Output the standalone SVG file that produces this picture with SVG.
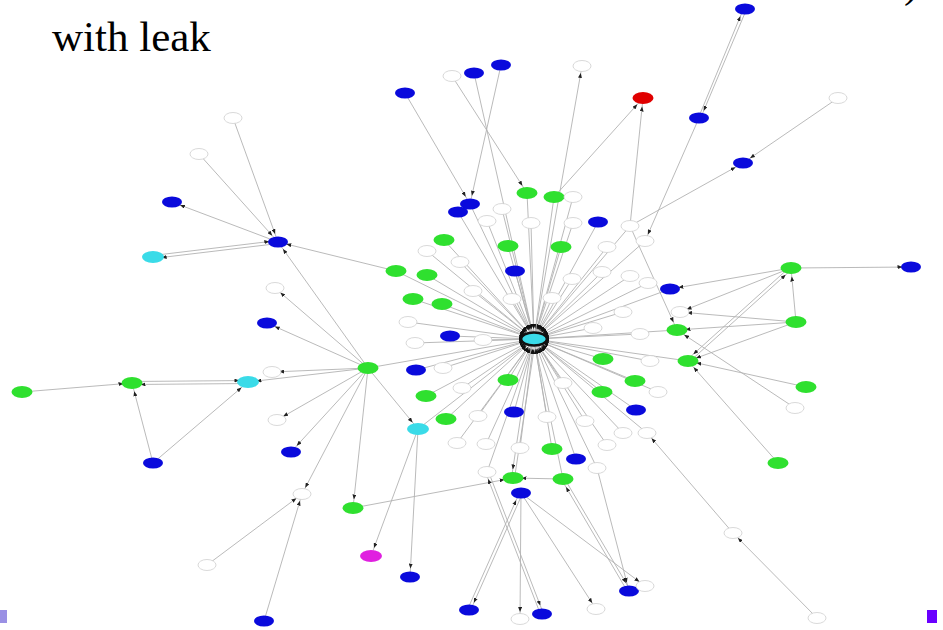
<svg xmlns="http://www.w3.org/2000/svg" width="943" height="630" viewBox="0 0 943 630">
  <style>
    .e { stroke: #b2b2b2; stroke-width: 0.9; fill: none; }
    .ac { marker-end: url(#aC); }
    .aw { marker-end: url(#aW); }
    .ah { marker-end: url(#aH); }
    .b { fill: #0a0adc; }
    .g { fill: #2fe02f; }
    .c { fill: #3adbe8; }
    .r { fill: #e00000; }
    .m { fill: #e020e0; }
    .w { fill: #ffffff; stroke: #cfcfcf; stroke-width: 0.8; }
    .hub { fill: #3adbe8; stroke: #111; stroke-width: 2.6; }
    .title { font-family: "Liberation Serif", "Times New Roman", serif; font-size: 43px; fill: #000; }
  </style>
  <defs>
    <!-- arrowheads, tip set back so it lands on the node outline -->
    <marker id="aC" viewBox="0 0 5 4" markerWidth="5" markerHeight="4" refX="13.5" refY="2" orient="auto" markerUnits="userSpaceOnUse">
      <path d="M0,0L5,2L0,4z" fill="#222"/>
    </marker>
    <marker id="aW" viewBox="0 0 5 4" markerWidth="5" markerHeight="4" refX="12" refY="2" orient="auto" markerUnits="userSpaceOnUse">
      <path d="M0,0L5,2L0,4z" fill="#222"/>
    </marker>
    <marker id="aH" viewBox="0 0 5 4" markerWidth="5" markerHeight="4" refX="15" refY="2" orient="auto" markerUnits="userSpaceOnUse">
      <path d="M0,0L5,2L0,4z" fill="#111"/>
    </marker>
  </defs>

  <rect width="943" height="630" fill="#ffffff"/>

  <text class="title" x="52" y="51">with leak</text>
  <text class="title" x="904" y="-3">)</text>

  <rect x="0" y="610" width="7" height="13" fill="#9a90e4"/>
  <rect x="927" y="610" width="10" height="13" fill="#6a00ff"/>

  <g id="edges">
    <!-- spokes into the hub -->
    <line class="e ah" x1="474" y1="73" x2="534" y2="339"/>
    <line class="e ah" x1="470" y1="204" x2="534" y2="339"/>
    <line class="e ah" x1="458" y1="212" x2="534" y2="339"/>
    <line class="e ah" x1="598" y1="222" x2="534" y2="339"/>
    <line class="e ah" x1="515" y1="271" x2="534" y2="339"/>
    <line class="e ah" x1="670" y1="289" x2="534" y2="339"/>
    <line class="e ah" x1="450" y1="336" x2="534" y2="339"/>
    <line class="e ah" x1="416" y1="370" x2="534" y2="339"/>
    <line class="e ah" x1="514" y1="412" x2="534" y2="339"/>
    <line class="e ah" x1="636" y1="410" x2="534" y2="339"/>
    <line class="e ah" x1="576" y1="459" x2="534" y2="339"/>
    <line class="e ah" x1="527" y1="193" x2="534" y2="339"/>
    <line class="e ah" x1="554" y1="197" x2="534" y2="339"/>
    <line class="e ah" x1="444" y1="240" x2="534" y2="339"/>
    <line class="e ah" x1="508" y1="246" x2="534" y2="339"/>
    <line class="e ah" x1="561" y1="247" x2="534" y2="339"/>
    <line class="e ah" x1="396" y1="271" x2="534" y2="339"/>
    <line class="e ah" x1="427" y1="275" x2="534" y2="339"/>
    <line class="e ah" x1="413" y1="299" x2="534" y2="339"/>
    <line class="e ah" x1="442" y1="304" x2="534" y2="339"/>
    <line class="e ah" x1="677" y1="330" x2="534" y2="339"/>
    <line class="e ah" x1="688" y1="361" x2="534" y2="339"/>
    <line class="e ah" x1="603" y1="359" x2="534" y2="339"/>
    <line class="e ah" x1="368" y1="368" x2="534" y2="339"/>
    <line class="e ah" x1="508" y1="380" x2="534" y2="339"/>
    <line class="e ah" x1="635" y1="381" x2="534" y2="339"/>
    <line class="e ah" x1="426" y1="396" x2="534" y2="339"/>
    <line class="e ah" x1="602" y1="392" x2="534" y2="339"/>
    <line class="e ah" x1="446" y1="419" x2="534" y2="339"/>
    <line class="e ah" x1="552" y1="449" x2="534" y2="339"/>
    <line class="e ah" x1="563" y1="479" x2="534" y2="339"/>
    <line class="e ah" x1="418" y1="429" x2="534" y2="339"/>
    <line class="e ah" x1="573" y1="197" x2="534" y2="339"/>
    <line class="e ah" x1="502" y1="209" x2="534" y2="339"/>
    <line class="e ah" x1="487" y1="221" x2="534" y2="339"/>
    <line class="e ah" x1="531" y1="223" x2="534" y2="339"/>
    <line class="e ah" x1="573" y1="223" x2="534" y2="339"/>
    <line class="e ah" x1="630" y1="226" x2="534" y2="339"/>
    <line class="e ah" x1="645" y1="241" x2="534" y2="339"/>
    <line class="e ah" x1="607" y1="247" x2="534" y2="339"/>
    <line class="e ah" x1="427" y1="251" x2="534" y2="339"/>
    <line class="e ah" x1="460" y1="262" x2="534" y2="339"/>
    <line class="e ah" x1="572" y1="279" x2="534" y2="339"/>
    <line class="e ah" x1="602" y1="272" x2="534" y2="339"/>
    <line class="e ah" x1="630" y1="276" x2="534" y2="339"/>
    <line class="e ah" x1="648" y1="283" x2="534" y2="339"/>
    <line class="e ah" x1="473" y1="291" x2="534" y2="339"/>
    <line class="e ah" x1="512" y1="299" x2="534" y2="339"/>
    <line class="e ah" x1="552" y1="298" x2="534" y2="339"/>
    <line class="e ah" x1="623" y1="312" x2="534" y2="339"/>
    <line class="e ah" x1="593" y1="328" x2="534" y2="339"/>
    <line class="e ah" x1="640" y1="334" x2="534" y2="339"/>
    <line class="e ah" x1="408" y1="322" x2="534" y2="339"/>
    <line class="e ah" x1="415" y1="343" x2="534" y2="339"/>
    <line class="e ah" x1="483" y1="340" x2="534" y2="339"/>
    <line class="e ah" x1="650" y1="361" x2="534" y2="339"/>
    <line class="e ah" x1="443" y1="368" x2="534" y2="339"/>
    <line class="e ah" x1="563" y1="383" x2="534" y2="339"/>
    <line class="e ah" x1="658" y1="392" x2="534" y2="339"/>
    <line class="e ah" x1="462" y1="388" x2="534" y2="339"/>
    <line class="e ah" x1="478" y1="416" x2="534" y2="339"/>
    <line class="e ah" x1="547" y1="417" x2="534" y2="339"/>
    <line class="e ah" x1="585" y1="421" x2="534" y2="339"/>
    <line class="e ah" x1="623" y1="433" x2="534" y2="339"/>
    <line class="e ah" x1="647" y1="433" x2="534" y2="339"/>
    <line class="e ah" x1="457" y1="443" x2="534" y2="339"/>
    <line class="e ah" x1="486" y1="444" x2="534" y2="339"/>
    <line class="e ah" x1="520" y1="448" x2="534" y2="339"/>
    <line class="e ah" x1="607" y1="445" x2="534" y2="339"/>
    <line class="e ah" x1="597" y1="468" x2="534" y2="339"/>
    <line class="e ah" x1="487" y1="472" x2="534" y2="339"/>
    <line class="e aw" x1="534" y1="339" x2="582" y2="66"/>
    <line class="e ah" x1="514.5" y1="478.2" x2="535.5" y2="339.2"/>
    <line class="e ac" x1="532.5" y1="338.8" x2="511.5" y2="477.8"/>

    <!-- upper part -->
    <line class="e ac" x1="452" y1="76" x2="527" y2="193"/>
    <line class="e ac" x1="405" y1="93" x2="470" y2="204"/>
    <line class="e ac" x1="501" y1="65" x2="470" y2="204"/>
    <line class="e ac" x1="554" y1="197" x2="643" y2="98"/>
    <line class="e ac" x1="630" y1="226" x2="643" y2="98"/>
    <line class="e ac" x1="746.4" y1="9.6" x2="700.4" y2="118.6"/>
    <line class="e ac" x1="698.6" y1="117.4" x2="743.6" y2="8.4"/>
    <line class="e aw" x1="699" y1="118" x2="645" y2="241"/>
    <line class="e ac" x1="838" y1="98" x2="743" y2="163"/>
    <line class="e ac" x1="630" y1="226" x2="743" y2="163"/>
    <line class="e ac" x1="630" y1="226" x2="677" y2="330"/>

    <!-- right cluster -->
    <line class="e ac" x1="791" y1="268" x2="911" y2="267"/>
    <line class="e ac" x1="791" y1="268" x2="670" y2="289"/>
    <line class="e aw" x1="791" y1="268" x2="680" y2="312"/>
    <line class="e ac" x1="796" y1="322" x2="791" y2="268"/>
    <line class="e aw" x1="796" y1="322" x2="680" y2="312"/>
    <line class="e ac" x1="796" y1="322" x2="677" y2="330"/>
    <line class="e ac" x1="796" y1="322" x2="688" y2="361"/>
    <line class="e ac" x1="689" y1="362.1" x2="792" y2="269.1"/>
    <line class="e ac" x1="790" y1="266.9" x2="687" y2="359.9"/>
    <line class="e ac" x1="806" y1="387" x2="688" y2="361"/>
    <line class="e ac" x1="795" y1="408" x2="677" y2="330"/>
    <line class="e ac" x1="778" y1="463" x2="688" y2="361"/>
    <line class="e aw" x1="733" y1="533" x2="647" y2="433"/>
    <line class="e aw" x1="817" y1="618" x2="733" y2="533"/>

    <!-- left cluster -->
    <line class="e ac" x1="233" y1="118" x2="278" y2="242"/>
    <line class="e ac" x1="199" y1="154" x2="278" y2="242"/>
    <line class="e ac" x1="278" y1="242" x2="172" y2="202"/>
    <line class="e ac" x1="278.2" y1="243.5" x2="153.2" y2="258.5"/>
    <line class="e ac" x1="152.8" y1="255.5" x2="277.8" y2="240.5"/>
    <line class="e ac" x1="396" y1="271" x2="278" y2="242"/>
    <line class="e ac" x1="368" y1="368" x2="278" y2="242"/>
    <line class="e aw" x1="368" y1="368" x2="275" y2="288"/>
    <line class="e ac" x1="368" y1="368" x2="267" y2="323"/>
    <line class="e aw" x1="368" y1="368" x2="272" y2="372"/>
    <line class="e ac" x1="368" y1="368" x2="248" y2="382"/>
    <line class="e aw" x1="368" y1="368" x2="277" y2="420"/>
    <line class="e ac" x1="368" y1="368" x2="291" y2="452"/>
    <line class="e aw" x1="368" y1="368" x2="302" y2="494"/>
    <line class="e ac" x1="368" y1="368" x2="353" y2="508"/>
    <line class="e ac" x1="368" y1="368" x2="418" y2="429"/>
    <line class="e aw" x1="207" y1="565" x2="302" y2="494"/>
    <line class="e aw" x1="264" y1="621" x2="302" y2="494"/>
    <line class="e ac" x1="248" y1="383.5" x2="132" y2="384.5"/>
    <line class="e ac" x1="132" y1="381.5" x2="248" y2="380.5"/>
    <line class="e ac" x1="22" y1="392" x2="132" y2="383"/>
    <line class="e ac" x1="153" y1="463" x2="132" y2="383"/>
    <line class="e ac" x1="153" y1="463" x2="248" y2="382"/>
    <line class="e ac" x1="418" y1="429" x2="371" y2="556"/>
    <line class="e ac" x1="418" y1="429" x2="410" y2="577"/>

    <!-- lower part -->
    <line class="e ac" x1="353" y1="508" x2="513" y2="478"/>
    <line class="e ac" x1="563" y1="479" x2="513" y2="478"/>
    <line class="e ac" x1="488.4" y1="471.5" x2="543.4" y2="613.5"/>
    <line class="e aw" x1="540.6" y1="614.5" x2="485.6" y2="472.5"/>
    <line class="e ac" x1="522.4" y1="493.6" x2="470.4" y2="610.6"/>
    <line class="e ac" x1="467.6" y1="609.4" x2="519.6" y2="492.4"/>
    <line class="e aw" x1="521" y1="493" x2="520" y2="619"/>
    <line class="e aw" x1="521" y1="493" x2="596" y2="609"/>
    <line class="e aw" x1="521" y1="493" x2="645" y2="586"/>
    <line class="e ac" x1="564.3" y1="478.2" x2="630.3" y2="590.2"/>
    <line class="e ac" x1="627.7" y1="591.8" x2="561.7" y2="479.8"/>
    <line class="e ac" x1="597" y1="468" x2="629" y2="591"/>
  </g>

  <!-- blue nodes -->
  <g id="b1"><ellipse class="b" cx="745" cy="9" rx="10" ry="5.5"/></g>
  <g id="b2"><ellipse class="b" cx="699" cy="118" rx="10" ry="5.5"/></g>
  <g id="b3"><ellipse class="b" cx="743" cy="163" rx="10" ry="5.5"/></g>
  <g id="b4"><ellipse class="b" cx="405" cy="93" rx="10" ry="5.5"/></g>
  <g id="b5"><ellipse class="b" cx="474" cy="73" rx="10" ry="5.5"/></g>
  <g id="b6"><ellipse class="b" cx="501" cy="65" rx="10" ry="5.5"/></g>
  <g id="b7"><ellipse class="b" cx="470" cy="204" rx="10" ry="5.5"/></g>
  <g id="b8"><ellipse class="b" cx="458" cy="212" rx="10" ry="5.5"/></g>
  <g id="b9"><ellipse class="b" cx="598" cy="222" rx="10" ry="5.5"/></g>
  <g id="b10"><ellipse class="b" cx="515" cy="271" rx="10" ry="5.5"/></g>
  <g id="b11"><ellipse class="b" cx="670" cy="289" rx="10" ry="5.5"/></g>
  <g id="b12"><ellipse class="b" cx="911" cy="267" rx="10" ry="5.5"/></g>
  <g id="b13"><ellipse class="b" cx="172" cy="202" rx="10" ry="5.5"/></g>
  <g id="b14"><ellipse class="b" cx="278" cy="242" rx="10" ry="5.5"/></g>
  <g id="b15"><ellipse class="b" cx="267" cy="323" rx="10" ry="5.5"/></g>
  <g id="b16"><ellipse class="b" cx="450" cy="336" rx="10" ry="5.5"/></g>
  <g id="b17"><ellipse class="b" cx="416" cy="370" rx="10" ry="5.5"/></g>
  <g id="b18"><ellipse class="b" cx="291" cy="452" rx="10" ry="5.5"/></g>
  <g id="b19"><ellipse class="b" cx="153" cy="463" rx="10" ry="5.5"/></g>
  <g id="b20"><ellipse class="b" cx="514" cy="412" rx="10" ry="5.5"/></g>
  <g id="b21"><ellipse class="b" cx="636" cy="410" rx="10" ry="5.5"/></g>
  <g id="b22"><ellipse class="b" cx="576" cy="459" rx="10" ry="5.5"/></g>
  <g id="b23"><ellipse class="b" cx="521" cy="493" rx="10" ry="5.5"/></g>
  <g id="b24"><ellipse class="b" cx="629" cy="591" rx="10" ry="5.5"/></g>
  <g id="b25"><ellipse class="b" cx="469" cy="610" rx="10" ry="5.5"/></g>
  <g id="b26"><ellipse class="b" cx="542" cy="614" rx="10" ry="5.5"/></g>
  <g id="b27"><ellipse class="b" cx="410" cy="577" rx="10" ry="5.5"/></g>
  <g id="b28"><ellipse class="b" cx="264" cy="621" rx="10" ry="5.5"/></g>

  <!-- green nodes -->
  <g id="g1"><ellipse class="g" cx="527" cy="193" rx="10.5" ry="6"/></g>
  <g id="g2"><ellipse class="g" cx="554" cy="197" rx="10.5" ry="6"/></g>
  <g id="g3"><ellipse class="g" cx="444" cy="240" rx="10.5" ry="6"/></g>
  <g id="g4"><ellipse class="g" cx="508" cy="246" rx="10.5" ry="6"/></g>
  <g id="g5"><ellipse class="g" cx="561" cy="247" rx="10.5" ry="6"/></g>
  <g id="g6"><ellipse class="g" cx="396" cy="271" rx="10.5" ry="6"/></g>
  <g id="g7"><ellipse class="g" cx="427" cy="275" rx="10.5" ry="6"/></g>
  <g id="g8"><ellipse class="g" cx="413" cy="299" rx="10.5" ry="6"/></g>
  <g id="g9"><ellipse class="g" cx="442" cy="304" rx="10.5" ry="6"/></g>
  <g id="g10"><ellipse class="g" cx="791" cy="268" rx="10.5" ry="6"/></g>
  <g id="g11"><ellipse class="g" cx="796" cy="322" rx="10.5" ry="6"/></g>
  <g id="g12"><ellipse class="g" cx="677" cy="330" rx="10.5" ry="6"/></g>
  <g id="g13"><ellipse class="g" cx="688" cy="361" rx="10.5" ry="6"/></g>
  <g id="g14"><ellipse class="g" cx="603" cy="359" rx="10.5" ry="6"/></g>
  <g id="g15"><ellipse class="g" cx="368" cy="368" rx="10.5" ry="6"/></g>
  <g id="g16"><ellipse class="g" cx="508" cy="380" rx="10.5" ry="6"/></g>
  <g id="g17"><ellipse class="g" cx="635" cy="381" rx="10.5" ry="6"/></g>
  <g id="g18"><ellipse class="g" cx="426" cy="396" rx="10.5" ry="6"/></g>
  <g id="g19"><ellipse class="g" cx="602" cy="392" rx="10.5" ry="6"/></g>
  <g id="g20"><ellipse class="g" cx="806" cy="387" rx="10.5" ry="6"/></g>
  <g id="g21"><ellipse class="g" cx="446" cy="419" rx="10.5" ry="6"/></g>
  <g id="g22"><ellipse class="g" cx="552" cy="449" rx="10.5" ry="6"/></g>
  <g id="g23"><ellipse class="g" cx="778" cy="463" rx="10.5" ry="6"/></g>
  <g id="g24"><ellipse class="g" cx="513" cy="478" rx="10.5" ry="6"/></g>
  <g id="g25"><ellipse class="g" cx="563" cy="479" rx="10.5" ry="6"/></g>
  <g id="g26"><ellipse class="g" cx="353" cy="508" rx="10.5" ry="6"/></g>
  <g id="g27"><ellipse class="g" cx="132" cy="383" rx="10.5" ry="6"/></g>
  <g id="g28"><ellipse class="g" cx="22" cy="392" rx="10.5" ry="6"/></g>

  <!-- cyan, red and magenta nodes -->
  <g id="c1"><ellipse class="c" cx="153" cy="257" rx="11" ry="6"/></g>
  <g id="c2"><ellipse class="c" cx="248" cy="382" rx="11" ry="6"/></g>
  <g id="c3"><ellipse class="c" cx="418" cy="429" rx="11" ry="6"/></g>
  <g id="r1"><ellipse class="r" cx="643" cy="98" rx="10.5" ry="6"/></g>
  <g id="m1"><ellipse class="m" cx="371" cy="556" rx="11" ry="6"/></g>

  <!-- white nodes -->
  <g id="w1"><ellipse class="w" cx="452" cy="76" rx="9" ry="5.5"/></g>
  <g id="w2"><ellipse class="w" cx="582" cy="66" rx="9" ry="5.5"/></g>
  <g id="w3"><ellipse class="w" cx="838" cy="98" rx="9" ry="5.5"/></g>
  <g id="w4"><ellipse class="w" cx="233" cy="118" rx="9" ry="5.5"/></g>
  <g id="w5"><ellipse class="w" cx="199" cy="154" rx="9" ry="5.5"/></g>
  <g id="w6"><ellipse class="w" cx="573" cy="197" rx="9" ry="5.5"/></g>
  <g id="w7"><ellipse class="w" cx="502" cy="209" rx="9" ry="5.5"/></g>
  <g id="w8"><ellipse class="w" cx="487" cy="221" rx="9" ry="5.5"/></g>
  <g id="w9"><ellipse class="w" cx="531" cy="223" rx="9" ry="5.5"/></g>
  <g id="w10"><ellipse class="w" cx="573" cy="223" rx="9" ry="5.5"/></g>
  <g id="w11"><ellipse class="w" cx="630" cy="226" rx="9" ry="5.5"/></g>
  <g id="w12"><ellipse class="w" cx="645" cy="241" rx="9" ry="5.5"/></g>
  <g id="w13"><ellipse class="w" cx="607" cy="247" rx="9" ry="5.5"/></g>
  <g id="w14"><ellipse class="w" cx="427" cy="251" rx="9" ry="5.5"/></g>
  <g id="w15"><ellipse class="w" cx="460" cy="262" rx="9" ry="5.5"/></g>
  <g id="w16"><ellipse class="w" cx="572" cy="279" rx="9" ry="5.5"/></g>
  <g id="w17"><ellipse class="w" cx="602" cy="272" rx="9" ry="5.5"/></g>
  <g id="w18"><ellipse class="w" cx="630" cy="276" rx="9" ry="5.5"/></g>
  <g id="w19"><ellipse class="w" cx="648" cy="283" rx="9" ry="5.5"/></g>
  <g id="w20"><ellipse class="w" cx="473" cy="291" rx="9" ry="5.5"/></g>
  <g id="w21"><ellipse class="w" cx="512" cy="299" rx="9" ry="5.5"/></g>
  <g id="w22"><ellipse class="w" cx="552" cy="298" rx="9" ry="5.5"/></g>
  <g id="w23"><ellipse class="w" cx="623" cy="312" rx="9" ry="5.5"/></g>
  <g id="w24"><ellipse class="w" cx="680" cy="312" rx="9" ry="5.5"/></g>
  <g id="w25"><ellipse class="w" cx="593" cy="328" rx="9" ry="5.5"/></g>
  <g id="w26"><ellipse class="w" cx="640" cy="334" rx="9" ry="5.5"/></g>
  <g id="w27"><ellipse class="w" cx="408" cy="322" rx="9" ry="5.5"/></g>
  <g id="w28"><ellipse class="w" cx="415" cy="343" rx="9" ry="5.5"/></g>
  <g id="w29"><ellipse class="w" cx="483" cy="340" rx="9" ry="5.5"/></g>
  <g id="w30"><ellipse class="w" cx="650" cy="361" rx="9" ry="5.5"/></g>
  <g id="w31"><ellipse class="w" cx="443" cy="368" rx="9" ry="5.5"/></g>
  <g id="w32"><ellipse class="w" cx="563" cy="383" rx="9" ry="5.5"/></g>
  <g id="w33"><ellipse class="w" cx="658" cy="392" rx="9" ry="5.5"/></g>
  <g id="w34"><ellipse class="w" cx="462" cy="388" rx="9" ry="5.5"/></g>
  <g id="w35"><ellipse class="w" cx="275" cy="288" rx="9" ry="5.5"/></g>
  <g id="w36"><ellipse class="w" cx="272" cy="372" rx="9" ry="5.5"/></g>
  <g id="w37"><ellipse class="w" cx="277" cy="420" rx="9" ry="5.5"/></g>
  <g id="w38"><ellipse class="w" cx="302" cy="494" rx="9" ry="5.5"/></g>
  <g id="w39"><ellipse class="w" cx="207" cy="565" rx="9" ry="5.5"/></g>
  <g id="w40"><ellipse class="w" cx="478" cy="416" rx="9" ry="5.5"/></g>
  <g id="w41"><ellipse class="w" cx="547" cy="417" rx="9" ry="5.5"/></g>
  <g id="w42"><ellipse class="w" cx="585" cy="421" rx="9" ry="5.5"/></g>
  <g id="w43"><ellipse class="w" cx="623" cy="433" rx="9" ry="5.5"/></g>
  <g id="w44"><ellipse class="w" cx="647" cy="433" rx="9" ry="5.5"/></g>
  <g id="w45"><ellipse class="w" cx="457" cy="443" rx="9" ry="5.5"/></g>
  <g id="w46"><ellipse class="w" cx="486" cy="444" rx="9" ry="5.5"/></g>
  <g id="w47"><ellipse class="w" cx="520" cy="448" rx="9" ry="5.5"/></g>
  <g id="w48"><ellipse class="w" cx="607" cy="445" rx="9" ry="5.5"/></g>
  <g id="w49"><ellipse class="w" cx="597" cy="468" rx="9" ry="5.5"/></g>
  <g id="w50"><ellipse class="w" cx="487" cy="472" rx="9" ry="5.5"/></g>
  <g id="w51"><ellipse class="w" cx="645" cy="586" rx="9" ry="5.5"/></g>
  <g id="w52"><ellipse class="w" cx="520" cy="619" rx="9" ry="5.5"/></g>
  <g id="w53"><ellipse class="w" cx="596" cy="609" rx="9" ry="5.5"/></g>
  <g id="w54"><ellipse class="w" cx="733" cy="533" rx="9" ry="5.5"/></g>
  <g id="w55"><ellipse class="w" cx="817" cy="618" rx="9" ry="5.5"/></g>
  <g id="w56"><ellipse class="w" cx="795" cy="408" rx="9" ry="5.5"/></g>

  <!-- hub -->
  <g id="hub"><ellipse class="hub" cx="534" cy="339" rx="13" ry="6.5"/></g>
</svg>
